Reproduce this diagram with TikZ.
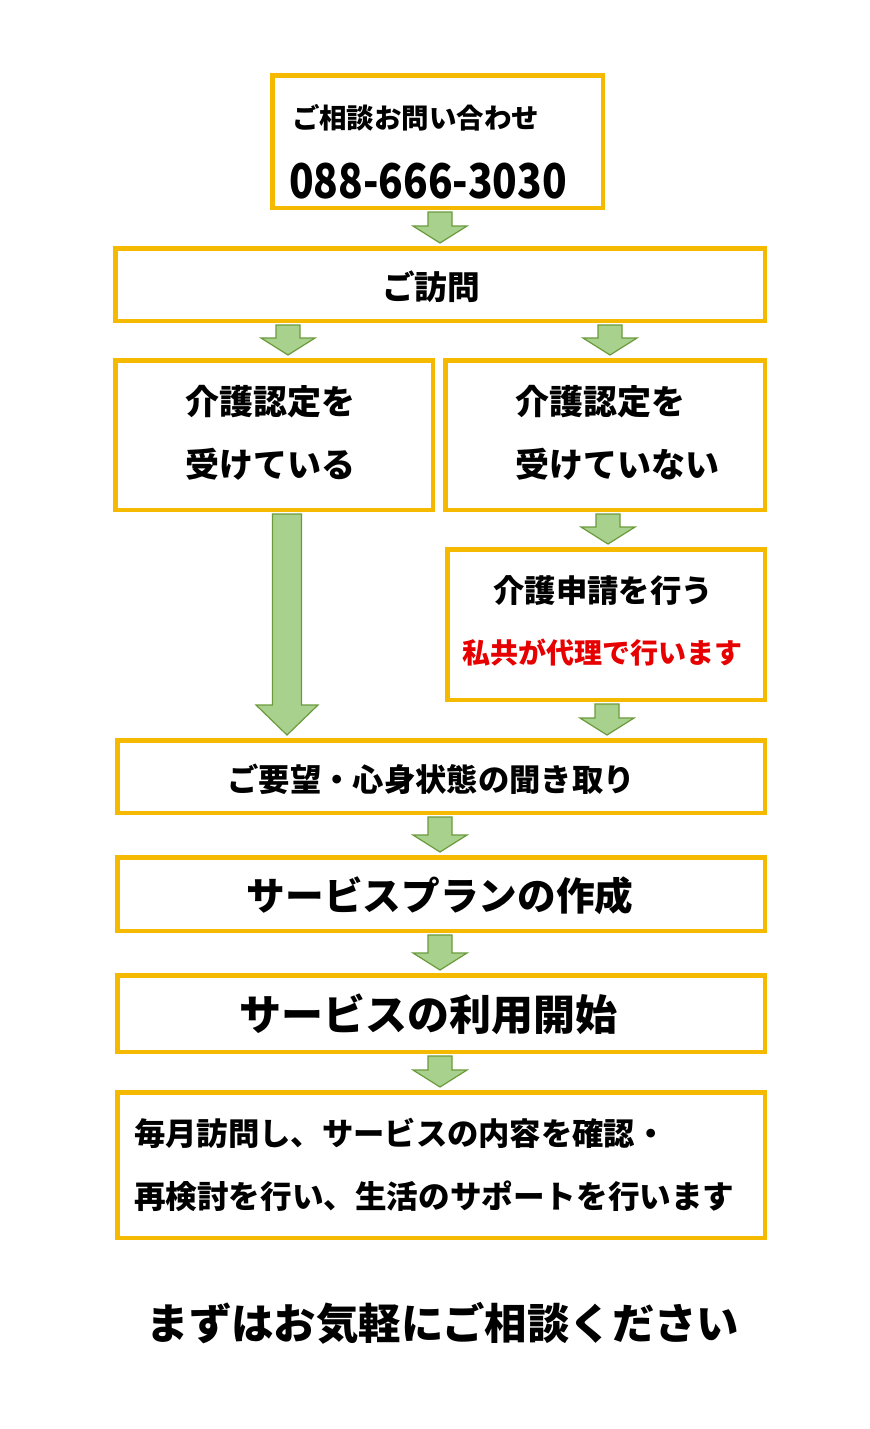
\documentclass[tikz,border=0pt]{standalone}
\usepackage{fontspec}
\setmainfont{Noto Sans CJK JP}
\usetikzlibrary{calc}
\definecolor{gold}{RGB}{245,185,0}
\definecolor{agreen}{RGB}{169,209,142}
\definecolor{agreenb}{RGB}{106,154,60}
\definecolor{redtxt}{RGB}{230,0,0}
\newcommand\pxu{0.75pt}
\newcommand\fsz[1]{\fontsize{#1}{#1}\selectfont\bfseries}
% block arrow: from, to, shaft half width, head half width, head length (px)
\newcommand\barrow[5]{%
  \fill[agreen,draw=agreenb,line width=1.2*\pxu,line join=miter] let \p1=(#1), \p2=(#2) in
   (\x1-#3*\pxu,\y1-2*\pxu) -- (\x1+#3*\pxu,\y1-2*\pxu) -- (\x1+#3*\pxu,\y2+3*\pxu+#5*\pxu)
   -- (\x1+#4*\pxu,\y2+3*\pxu+#5*\pxu) -- (\x1,\y2+3*\pxu) -- (\x1-#4*\pxu,\y2+3*\pxu+#5*\pxu)
   -- (\x1-#3*\pxu,\y2+3*\pxu+#5*\pxu) -- cycle;}
\tikzset{
  box/.style={draw=gold,line width=4.5*\pxu,fill=white,inner sep=0pt,rectangle},
  jp/.style={inner sep=0pt,outer sep=0pt,font=\fsz{#1},text height=0.88em,text depth=0.12em},
}
\begin{document}
\begin{tikzpicture}[x=0.75pt,y=-0.75pt]
\fill[white] (0,0) rectangle (870,1429);
\useasboundingbox (0,0) rectangle (870,1429);
% boxes
\node[box,minimum width=330.5*\pxu,minimum height=132.5*\pxu] (b1) at (437.5,141.5) {};
\node[box,minimum width=649.5*\pxu,minimum height=72.5*\pxu] (b2) at (440,284.5) {};
\node[box,minimum width=317.5*\pxu,minimum height=149.5*\pxu] (b3) at (274,435) {};
\node[box,minimum width=319.5*\pxu,minimum height=149.5*\pxu] (b4) at (605,435) {};
\node[box,minimum width=317.5*\pxu,minimum height=150.5*\pxu] (b5) at (606,624.5) {};
\node[box,minimum width=647.5*\pxu,minimum height=72.5*\pxu] (b6) at (441,776.5) {};
\node[box,minimum width=647.5*\pxu,minimum height=73.5*\pxu] (b7) at (441,894) {};
\node[box,minimum width=647.5*\pxu,minimum height=76.5*\pxu] (b8) at (441,1013.5) {};
\node[box,minimum width=647.5*\pxu,minimum height=145.5*\pxu] (b9) at (441,1165) {};
% texts
\node[jp=20.6pt,anchor=west] (t1a) at (292,123) {ご相談お問い合わせ};
\node[jp=36pt,anchor=west] (t1b) at (289,193) {\scalebox{0.845}[1]{088-666-3030}};
\node[jp=24.5pt] (t2) at (431,294) {ご訪問};
\node[jp=25.5pt,anchor=west] (t3a) at (185,409.5) {介護認定を};
\node[jp=25.5pt,anchor=west] (t3b) at (185,472.5) {受けている};
\node[jp=25.5pt,anchor=west] (t4a) at (515,409.5) {介護認定を};
\node[jp=25.5pt,anchor=west] (t4b) at (515,472.5) {受けていない};
\node[jp=23.5pt] (t5a) at (603,597) {介護申請を行う};
\node[jp=21pt,text=redtxt] (t5b) at (602,658) {私共が代理で行います};
\node[jp=23.5pt] (t6) at (431,786) {ご要望・心身状態の聞き取り};
\node[jp=29pt] (t7) at (440,905) {サービスプランの作成};
\node[jp=31.5pt] (t8) at (428,1025) {サービスの利用開始};
\node[jp=23.5pt,anchor=west] (t9a) at (134,1140) {毎月訪問し、サービスの内容を確認・};
\node[jp=23.7pt,anchor=west] (t9b) at (134,1203) {再検討を行い、生活のサポートを行います};
\node[jp=31.8pt] (t10) at (443,1334) {まずはお気軽にご相談ください};
% arrow axes
\coordinate (x440) at (440,0);
\coordinate (x288) at (288,0);
\coordinate (x287) at (287,0);
\coordinate (x610) at (610,0);
\coordinate (x608) at (608,0);
\coordinate (x607) at (607,0);
% arrows
\barrow{b1.south -| x440}{b2.north -| x440}{12}{27}{17}
\barrow{b2.south -| x288}{b3.north -| x288}{12}{27}{17}
\barrow{b2.south -| x610}{b4.north -| x610}{12}{27}{17}
\barrow{b4.south -| x608}{b5.north -| x608}{12}{27}{17}
\barrow{b3.south -| x287}{b6.north -| x287}{14.5}{31}{30}
\barrow{b5.south -| x607}{b6.north -| x607}{12}{27}{17}
\barrow{b6.south -| x440}{b7.north -| x440}{12}{27}{17}
\barrow{b7.south -| x440}{b8.north -| x440}{12}{27}{17}
\barrow{b8.south -| x440}{b9.north -| x440}{12}{27}{17}
\end{tikzpicture}
\end{document}
